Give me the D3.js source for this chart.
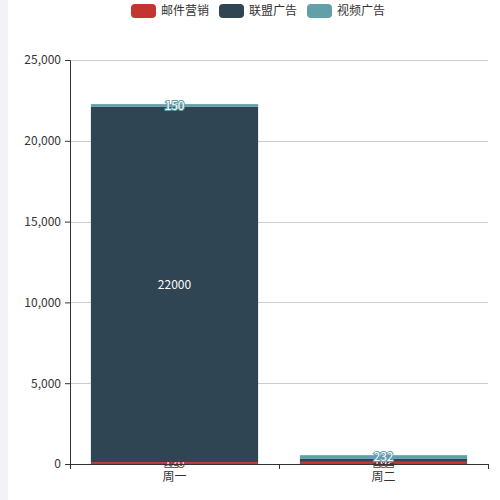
<!DOCTYPE html>
<html>
<head>
<meta charset="utf-8">
<script src="https://cdn.jsdelivr.net/npm/d3@7"></script>
<style>
  html, body { margin: 0; padding: 0; background: #fff; }
  body { font-family: "Microsoft YaHei", "Noto Sans CJK SC", sans-serif; }
</style>
</head>
<body>
<div id="chart"></div>
<script>
// chart data
var categories = ['周一', '周二'];
var seriesNames = ['邮件营销', '联盟广告', '视频广告'];
var mailValues = [120, 132];
var unionValues = [22000, 182];
var videoValues = [150, 232];
var yTicks = [0, 5000, 10000, 15000, 20000, 25000];

var colors = ['#c23531', '#2f4554', '#61a0a8'];

var width = 500, height = 500;
var margin = {top: 60, right: 12, bottom: 36, left: 70};

var svg = d3.select('#chart').append('svg')
  .attr('width', width)
  .attr('height', height);

// the pale strip down the left edge
svg.append('rect')
  .attr('x', 0).attr('y', 0)
  .attr('width', 8).attr('height', height)
  .attr('fill', '#f2f2f8');

// rows for the stack
var rows = categories.map(function(c, i) {
  return {cat: c, '邮件营销': mailValues[i], '联盟广告': unionValues[i], '视频广告': videoValues[i]};
});
var stacked = d3.stack().keys(seriesNames)(rows);

var x = d3.scaleBand()
  .domain(categories)
  .range([margin.left, width - margin.right])
  .paddingInner(0.2)
  .paddingOuter(0.1);

// band used for the axis ticks (no padding, ticks sit on boundaries)
var xAxisBand = d3.scaleBand()
  .domain(categories)
  .range([margin.left, width - margin.right]);

var y = d3.scaleLinear()
  .domain([0, 25000])
  .range([height - margin.bottom, margin.top]);

// grid lines
svg.append('g')
  .selectAll('line')
  .data(yTicks.slice(1))
  .join('line')
  .attr('x1', margin.left)
  .attr('x2', width - margin.right)
  .attr('y1', function(d) { return Math.round(y(d)) + 0.5; })
  .attr('y2', function(d) { return Math.round(y(d)) + 0.5; })
  .attr('stroke', '#ccc')
  .attr('stroke-width', 1);

// bars
var layers = svg.append('g').selectAll('g')
  .data(stacked)
  .join('g')
  .attr('fill', function(d, i) { return colors[i]; });

layers.selectAll('rect')
  .data(function(d) { return d; })
  .join('rect')
  .attr('x', function(d) { return x(d.data.cat); })
  .attr('width', x.bandwidth())
  .attr('y', function(d) { return y(d[1]); })
  .attr('height', function(d) { return y(d[0]) - y(d[1]); });

// y axis
var yAxis = svg.append('g')
  .attr('transform', 'translate(' + margin.left + ',0)')
  .call(d3.axisLeft(y).tickValues(yTicks).tickSize(5).tickPadding(4).tickFormat(d3.format(',')));
yAxis.select('.domain').attr('stroke', '#333');
yAxis.selectAll('.tick line').attr('stroke', '#333');
yAxis.selectAll('text')
  .attr('fill', '#333')
  .style('font-size', '12px')
  .style('font-family', '"Microsoft YaHei", "Noto Sans CJK SC", sans-serif');

// x axis
var xAxis = svg.append('g')
  .attr('transform', 'translate(0,' + (height - margin.bottom) + ')')
  .call(d3.axisBottom(xAxisBand).tickSizeOuter(5).tickSize(0).tickPadding(8));
xAxis.select('.domain').attr('stroke', '#333');
xAxis.selectAll('text')
  .attr('fill', '#333')
  .style('font-size', '12px')
  .style('font-family', '"Microsoft YaHei", "Noto Sans CJK SC", sans-serif');

// ticks on the category boundaries
var bounds = categories.map(function(c) { return xAxisBand(c); });
bounds.push(xAxisBand.range()[1]);
xAxis.selectAll('.bound')
  .data(bounds)
  .join('line')
  .attr('class', 'bound')
  .attr('x1', function(d) { return Math.round(d) + 0.5; })
  .attr('x2', function(d) { return Math.round(d) + 0.5; })
  .attr('y1', 0).attr('y2', 5)
  .attr('stroke', '#333');

// value labels, white text with a stroke in the series colour
layers.each(function(layer, i) {
  d3.select(this).selectAll('text')
    .data(layer)
    .join('text')
    .attr('x', function(d) { return x(d.data.cat) + x.bandwidth() / 2; })
    .attr('y', function(d) { return (y(d[0]) + y(d[1])) / 2; })
    .attr('dy', '0.35em')
    .attr('text-anchor', 'middle')
    .style('font-size', '12px')
    .style('font-family', '"Microsoft YaHei", "Noto Sans CJK SC", sans-serif')
    .attr('stroke', colors[i])
    .attr('stroke-width', 2)
    .attr('paint-order', 'stroke')
    .attr('fill', '#fff')
    .text(function(d) { return d.data[layer.key]; });
});

// legend
var legend = svg.append('g').attr('transform', 'translate(131,4)');
var item = legend.selectAll('g')
  .data(seriesNames)
  .join('g')
  .attr('transform', function(d, i) { return 'translate(' + (i * 88) + ',0)'; });
item.append('rect')
  .attr('width', 25).attr('height', 14)
  .attr('rx', 4).attr('ry', 4)
  .attr('fill', function(d, i) { return colors[i]; });
item.append('text')
  .attr('x', 30).attr('y', 7)
  .attr('dy', '0.35em')
  .attr('fill', '#333')
  .style('font-size', '12px')
  .style('font-family', '"Microsoft YaHei", "Noto Sans CJK SC", sans-serif')
  .text(function(d) { return d; });
</script>
</body>
</html>
